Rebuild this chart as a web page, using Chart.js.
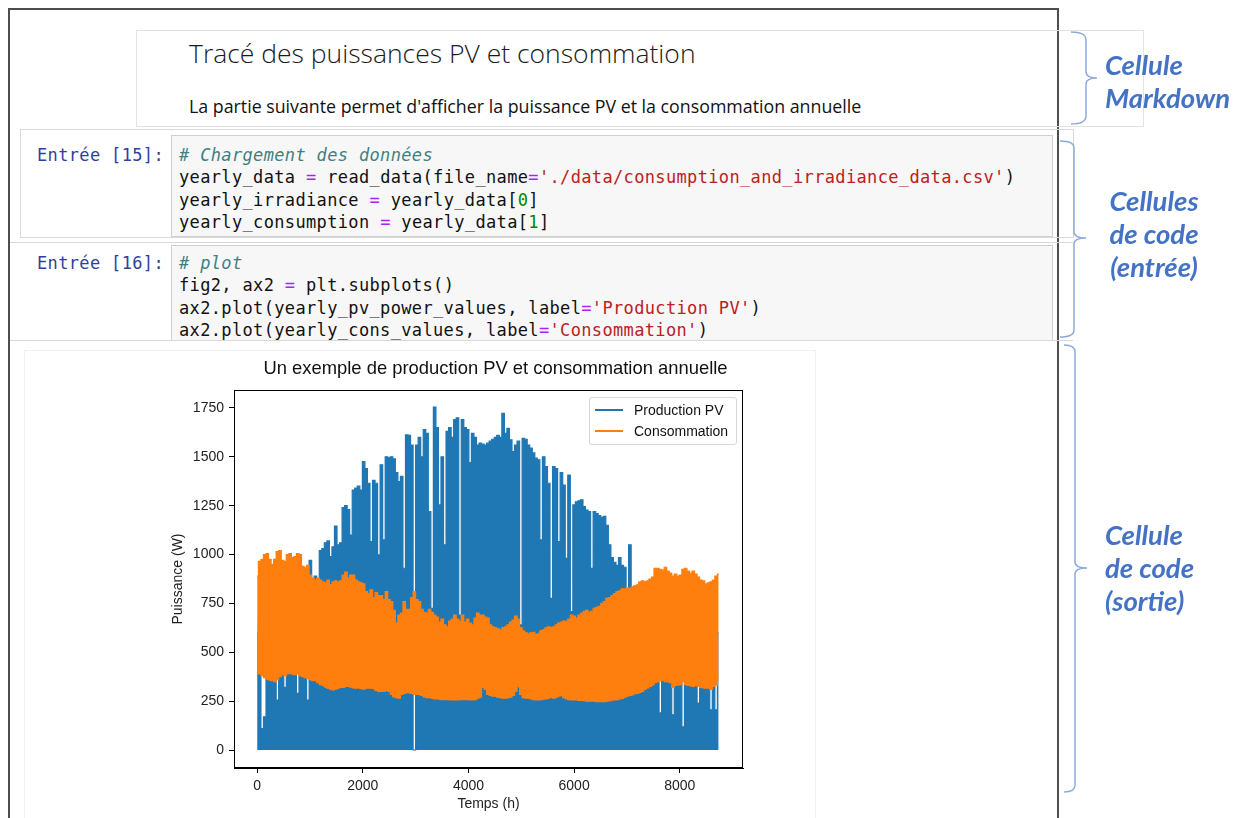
<!DOCTYPE html>
<html>
<head>
<meta charset="utf-8">
<script src="https://cdn.jsdelivr.net/npm/chart.js@4.4.1/dist/chart.umd.min.js"></script>
<style>
  body { margin: 0; width: 1243px; height: 818px; position: relative; overflow: hidden; background: #fff; font-family: 'Liberation Sans', Arial, sans-serif; }
  .abs { position: absolute; }
  .frame { left: 8px; top: 8px; width: 1047px; height: 830px; border: 2px solid #4d4d4d; border-bottom: none; }
  .md { left: 136px; top: 30px; width: 1006px; height: 95px; border: 1px solid #e3e3e3; }
  .h1 { left: 189px; top: 35px; font-family: 'Open Sans', 'Noto Sans', sans-serif; font-weight: 300; font-size: 26.5px; color: #1a1a1a; white-space: nowrap; }
  .p { left: 189px; top: 94px; font-family: 'Open Sans', 'Noto Sans', sans-serif; font-size: 17.8px; color: #111; white-space: nowrap; }
  .cellbox { left: 20px; top: 129px; width: 1052px; height: 107px; border: 1px solid #d9d9d9; }
  .hline { height: 1px; background: #d9d9d9; left: 10px; width: 1063px; }
  .inp { left: 171px; width: 880px; background: #f7f7f7; border: 1px solid #cfcfcf; }
  pre { margin: 0; font-family: 'DejaVu Sans Mono', monospace; font-size: 17px; letter-spacing: 0.35px; line-height: 22.3px; color: #111; }
  .prompt { color: #303f9f; }
  .c { color: #408080; font-style: italic; }
  .o { color: #aa22ff; }
  .s { color: #ba2121; }
  .n { color: #008800; }
  .out { left: 24px; top: 350px; width: 790px; height: 470px; border: 1px solid #f0f0f0; }
  .note { font-family: Lato, 'Open Sans', sans-serif; font-weight: bold; font-style: italic; font-size: 27.5px; line-height: 33px; color: #4472c4; white-space: nowrap; }
  .ctitle { left: 241px; width: 509px; top: 357px; text-align: center; font-size: 18.4px; color: #111; white-space: nowrap; }
  .legend { left: 589px; top: 397px; width: 146px; height: 46px; border: 1px solid #d6d6d6; border-radius: 3px; background: rgba(255,255,255,0.8); font-size: 14px; color: #111; }
  .legend .row { position: absolute; left: 0; height: 20px; line-height: 20px; white-space: nowrap; }
  .legend .sw { position: absolute; left: 5px; width: 28px; height: 2px; }
  .legend .lab { position: absolute; left: 44px; }
</style>
</head>
<body>
<div class="abs frame"></div>
<div class="abs md"></div>
<div class="abs h1">Tracé des puissances PV et consommation</div>
<div class="abs p">La partie suivante permet d'afficher la puissance PV et la consommation annuelle</div>

<div class="abs cellbox"></div>
<div class="abs inp" style="top:135px;height:100px;"></div>
<pre class="abs prompt" style="left:37px;top:144px;">Entrée [15]:</pre>
<pre class="abs" style="left:179px;top:144px;"><span class="c"># Chargement des données</span>
yearly_data <span class="o">=</span> read_data(file_name<span class="o">=</span><span class="s">'./data/consumption_and_irradiance_data.csv'</span>)
yearly_irradiance <span class="o">=</span> yearly_data[<span class="n">0</span>]
yearly_consumption <span class="o">=</span> yearly_data[<span class="n">1</span>]</pre>

<div class="abs hline" style="top:242px;"></div>
<div class="abs inp" style="top:245px;height:94px;"></div>
<pre class="abs prompt" style="left:37px;top:252px;">Entrée [16]:</pre>
<pre class="abs" style="left:179px;top:252px;"><span class="c"># plot</span>
fig2, ax2 <span class="o">=</span> plt.subplots()
ax2.plot(yearly_pv_power_values, label<span class="o">=</span><span class="s">'Production PV'</span>)
ax2.plot(yearly_cons_values, label<span class="o">=</span><span class="s">'Consommation'</span>)</pre>
<div class="abs hline" style="top:340px;"></div>

<div class="abs out"></div>
<canvas id="chart" class="abs" style="left:160px;top:350px;" width="600" height="468"></canvas>
<div class="abs ctitle">Un exemple de production PV et consommation annuelle</div>
<div class="abs legend">
  <div class="row" style="top:2px;"><div class="sw" style="top:9px;background:#1f77b4;"></div><span class="lab">Production PV</span></div>
  <div class="row" style="top:23px;"><div class="sw" style="top:9px;background:#ff7f0e;"></div><span class="lab">Consommation</span></div>
</div>

<svg class="abs" style="left:0;top:0;" width="1243" height="818">
  <g fill="none" stroke="#8eaadb" stroke-width="1.5">
    <path d="M1071,32 Q1086,32 1086,40 L1086,72 Q1086,78 1097,78 Q1086,78 1086,84 L1086,116 Q1086,124 1071,124"/>
    <path d="M1060,141 Q1074,141 1074,148 L1074,232 Q1074,238 1086,238 Q1074,238 1074,244 L1074,330 Q1074,337 1060,337"/>
    <path d="M1064,345 Q1075,345 1075,352 L1075,562 Q1075,568 1087,568 Q1075,568 1075,574 L1075,785 Q1075,792 1064,792"/>
  </g>
</svg>
<div class="abs note" style="left:1105px;top:48px;">Cellule<br>Markdown</div>
<div class="abs note" style="left:1096px;top:184px;width:116px;text-align:center;">Cellules<br>de code<br>(entrée)</div>
<div class="abs note" style="left:1105px;top:518px;">Cellule<br>de code<br>(sortie)</div>

<script>
// one value every 2 days (48 h)
var STEP_H = 48;

// daily peak of the PV production (W)
var pvMax = [
  600, 650, 110, 170, 700, 750, 680, 800, 256, 820,
  760, 320, 850, 780, 880, 700, 290, 860, 900, 830,
  256, 970, 850, 890, 870, 1020, 1030, 1060, 1070, 990,
  1040, 1146, 1050, 1060, 1240, 1250, 1230, 1100, 1330, 1340,
  1350, 1330, 1476, 1440, 1365, 1066, 1380, 1365, 998, 1459,
  1075, 1500, 1495, 1500, 1490, 1420, 1373, 1400, 930, 1612,
  1610, 1560, 0, 1560, 1600, 1500, 1640, 1620, 1220, 725,
  1755, 1650, 1254, 1500, 1050, 1630, 1650, 1600, 1690, 1700,
  690, 1690, 1650, 1640, 1470, 1620, 1600, 1560, 1570, 1565,
  1560, 1570, 1580, 1590, 1600, 1610, 1600, 1723, 1620, 1646,
  1587, 1527, 1560, 1580, 640, 1595, 1590, 1560, 1545, 1520,
  1493, 1485, 1075, 1500, 1450, 1365, 776, 1450, 1440, 1066,
  1420, 1356, 981, 1407, 708, 1254, 1270, 1275, 1280, 1245,
  1228, 1220, 930, 1220, 1210, 1200, 1190, 1195, 1150, 1050,
  985, 960, 945, 985, 945, 935, 776, 1050, 830, 820,
  810, 780, 720, 760, 700, 740, 690, 760, 720, 190,
  700, 650, 720, 680, 180, 690, 640, 700, 118, 660,
  620, 700, 650, 680, 240, 640, 700, 620, 660, 205,
  640, 205, 600
];

// upper and lower envelope of the consumption (W)
var consMax = [
  890, 965, 975, 1000, 1005, 975, 950, 975, 1015, 1020,
  970, 965, 1000, 1005, 985, 990, 1005, 1000, 940, 935,
  945, 895, 880, 870, 880, 870, 860, 855, 870, 845,
  860, 865, 860, 865, 895, 910, 880, 895, 895, 870,
  860, 855, 850, 810, 800, 820, 780, 805, 790, 790,
  770, 810, 770, 760, 715, 650, 690, 700, 760, 720,
  720, 780, 810, 770, 760, 720, 705, 700, 720, 705,
  690, 680, 655, 670, 640, 630, 660, 670, 690, 670,
  660, 690, 655, 670, 650, 640, 675, 700, 690, 690,
  680, 675, 640, 630, 625, 620, 614, 625, 630, 640,
  655, 665, 685, 670, 625, 610, 600, 595, 600, 602,
  590, 595, 610, 615, 625, 630, 628, 630, 640, 650,
  655, 660, 660, 670, 690, 685, 675, 690, 700, 710,
  715, 705, 710, 725, 730, 735, 750, 760, 776, 780,
  790, 800, 810, 815, 825, 825, 830, 827, 835, 840,
  845, 860, 865, 860, 865, 875, 885, 930, 930, 925,
  920, 935, 915, 905, 890, 900, 890, 895, 925, 930,
  915, 905, 915, 900, 885, 870, 865, 850, 855, 860,
  870, 890, 900
];
var consMin = [
  390, 390, 380, 370, 362, 358, 355, 350, 360, 375,
  385, 380, 390, 392, 388, 385, 390, 380, 375, 370,
  365, 360, 355, 355, 345, 335, 330, 322, 316, 312,
  308, 312, 316, 320, 320, 325, 325, 322, 318, 316,
  318, 314, 312, 316, 316, 316, 314, 305, 300, 300,
  300, 305, 300, 285, 272, 268, 266, 285, 290, 292,
  292, 290, 285, 285, 283, 280, 272, 268, 268, 265,
  262, 262, 260, 258, 258, 258, 258, 256, 256, 256,
  258, 258, 258, 258, 256, 256, 258, 265, 270, 320,
  310, 285, 280, 275, 275, 270, 268, 265, 265, 268,
  270, 280, 300, 324, 285, 268, 266, 265, 262, 258,
  256, 256, 258, 260, 262, 266, 270, 265, 270, 275,
  280, 268, 262, 258, 256, 256, 256, 254, 254, 252,
  250, 250, 250, 250, 248, 247, 247, 248, 250, 252,
  255, 256, 258, 262, 264, 270, 275, 280, 282, 288,
  290, 295, 300, 312, 318, 325, 333, 345, 350, 355,
  358, 350, 348, 345, 320, 330, 333, 335, 350, 335,
  330, 328, 326, 330, 325, 320, 318, 316, 316, 310,
  325, 333, 360
];

var xTicks = [0, 2000, 4000, 6000, 8000];
var yTicks = [0, 250, 500, 750, 1000, 1250, 1500, 1750];

var BLUE = '#1f77b4';
var ORANGE = '#ff7f0e';

var toPoints = function(values) {
    return values.map(function(v, i) { return { x: i * STEP_H, y: v }; });
};

// matplotlib draws a box on all four sides
var axesFrame = {
    id: 'axesFrame',
    afterDatasetsDraw: function(chart) {
        var a = chart.chartArea, ctx = chart.ctx;
        ctx.save();
        ctx.strokeStyle = '#000';
        ctx.lineWidth = 1;
        ctx.strokeRect(a.left + 0.5, a.top + 0.5, a.width - 1, a.height - 1);
        ctx.restore();
    }
};

var tickFont = { family: "'Liberation Sans', Arial, sans-serif", size: 14 };
var plainLabel = function(value) { return String(value); };

window.onload = function() {
    var ctx = document.getElementById('chart');
    window.myChart = new Chart(ctx, {
        type: 'line',
        data: {
            datasets: [{
                label: 'Production PV',
                data: toPoints(pvMax),
                borderColor: BLUE,
                backgroundColor: BLUE,
                borderWidth: 1.2,
                pointRadius: 0,
                stepped: 'middle',
                fill: 'origin',
                order: 3
            }, {
                label: 'Consommation',
                data: toPoints(consMax),
                borderColor: ORANGE,
                backgroundColor: ORANGE,
                borderWidth: 1.2,
                pointRadius: 0,
                stepped: 'middle',
                fill: '+1',
                order: 1
            }, {
                label: 'Consommation (min)',
                data: toPoints(consMin),
                borderColor: ORANGE,
                backgroundColor: ORANGE,
                borderWidth: 1.2,
                pointRadius: 0,
                stepped: 'middle',
                fill: false,
                order: 2
            }]
        },
        options: {
            responsive: false,
            animation: false,
            layout: { padding: { top: 40, right: 17, left: 0, bottom: 0 } },
            plugins: {
                legend: { display: false },
                title: { display: false },
                tooltip: { enabled: false }
            },
            scales: {
                x: {
                    type: 'linear',
                    min: -438,
                    max: 9197,
                    afterFit: function(scale) { scale.height = 50; },
                    afterBuildTicks: function(scale) {
                        scale.ticks = xTicks.map(function(v) { return { value: v }; });
                    },
                    grid: { drawOnChartArea: false, drawTicks: true, tickLength: 5, color: '#000' },
                    border: { display: true, color: '#000' },
                    ticks: { font: tickFont, color: '#222', padding: 5, maxRotation: 0, callback: plainLabel },
                    title: { display: true, text: 'Temps (h)', font: tickFont, color: '#222', padding: { top: 0, bottom: 5 } }
                },
                y: {
                    min: -92,
                    max: 1842,
                    afterFit: function(scale) { scale.width = 74; },
                    afterBuildTicks: function(scale) {
                        scale.ticks = yTicks.map(function(v) { return { value: v }; });
                    },
                    grid: { drawOnChartArea: false, drawTicks: true, tickLength: 5, color: '#000' },
                    border: { display: true, color: '#000' },
                    ticks: { font: tickFont, color: '#222', padding: 5, callback: plainLabel },
                    title: { display: true, text: 'Puissance (W)', font: tickFont, color: '#222', padding: { top: 10, bottom: 0 } }
                }
            }
        },
        plugins: [axesFrame]
    });
};
</script>
</body>
</html>
